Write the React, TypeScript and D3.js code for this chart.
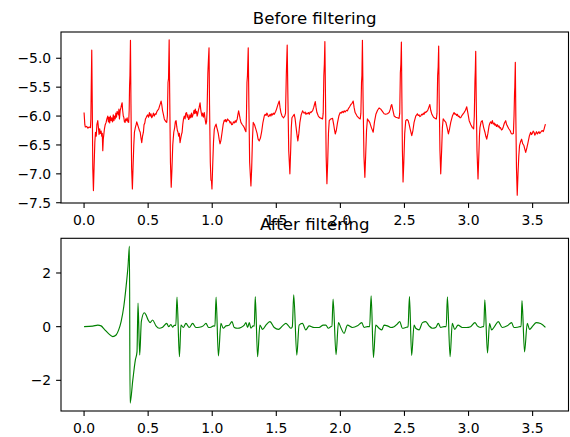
import React from "react";
import * as d3 from "d3";

const rawSignal: [number, number][] = [
  [0.0,-5.94],[0.006,-6.15],[0.01,-6.19],[0.02,-6.18],[0.03,-6.21],[0.04,-6.19],[0.05,-6.2],[0.053,-6.05],[0.056,-5.5],[0.06,-4.86],[0.064,-5.8],[0.068,-6.9],[0.073,-7.29],[0.078,-6.9],[0.084,-6.45],[0.089,-6.28],[0.095,-6.35],[0.1,-6.15],[0.107,-6.08],[0.112,-6.2],[0.117,-6.32],[0.122,-6.22],[0.127,-6.3],[0.133,-6.26],[0.138,-6.35],[0.142,-6.3],[0.146,-6.6],[0.15,-6.4],[0.155,-6.3],[0.159,-6.22],[0.165,-6.15],[0.172,-6.11],[0.178,-6.05],[0.185,-6.0],[0.19,-6.1],[0.195,-6.02],[0.2,-6.12],[0.205,-6.0],[0.211,-6.08],[0.216,-6.03],[0.222,-6.1],[0.228,-5.98],[0.233,-6.08],[0.237,-6.0],[0.243,-6.05],[0.248,-5.95],[0.253,-6.02],[0.258,-5.92],[0.263,-5.94],[0.268,-5.98],[0.272,-5.88],[0.276,-6.05],[0.282,-5.9],[0.288,-5.85],[0.293,-5.8],[0.297,-5.77],[0.301,-5.9],[0.306,-6.0],[0.31,-6.02],[0.315,-6.1],[0.32,-6.11],[0.325,-6.05],[0.33,-6.08],[0.336,-6.03],[0.342,-6.1],[0.348,-6.11],
  [0.352,-5.9],[0.355,-5.48],[0.358,-5.3],[0.362,-4.69],[0.366,-5.8],[0.371,-6.9],[0.377,-7.26],[0.382,-6.9],[0.388,-6.5],[0.393,-6.28],[0.4,-6.2],[0.406,-6.15],[0.411,-6.1],[0.418,-6.15],[0.425,-6.2],[0.432,-6.25],[0.438,-6.28],[0.444,-6.38],[0.45,-6.46],[0.456,-6.35],[0.463,-6.28],[0.468,-6.15],[0.474,-6.12],[0.479,-6.05],[0.484,-6.03],[0.49,-6.0],[0.496,-5.98],[0.503,-6.02],[0.51,-5.94],[0.516,-6.0],[0.522,-5.96],[0.528,-6.03],[0.535,-6.0],[0.541,-5.95],[0.548,-6.0],[0.555,-5.96],[0.561,-5.97],[0.567,-5.93],[0.574,-5.9],[0.582,-5.88],[0.59,-5.82],[0.596,-5.78],[0.601,-5.74],[0.606,-5.8],[0.612,-5.9],[0.619,-5.97],[0.626,-6.05],[0.633,-6.08],[0.64,-6.1],[0.645,-6.11],
  [0.65,-6.0],[0.655,-5.42],[0.659,-5.35],[0.664,-4.68],[0.668,-5.6],[0.674,-6.8],[0.68,-7.23],[0.686,-6.9],[0.692,-6.5],[0.7,-6.28],[0.707,-6.2],[0.712,-6.1],[0.718,-6.08],[0.723,-6.18],[0.728,-6.25],[0.733,-6.28],[0.738,-6.35],[0.743,-6.3],[0.749,-6.46],[0.755,-6.38],[0.76,-6.32],[0.765,-6.28],[0.77,-6.15],[0.776,-6.05],[0.782,-6.0],[0.788,-6.05],[0.794,-5.95],[0.8,-5.94],[0.805,-6.02],[0.81,-5.98],[0.815,-6.06],[0.82,-6.05],[0.826,-5.98],[0.832,-6.03],[0.838,-5.95],[0.843,-6.02],[0.847,-6.0],[0.853,-5.95],[0.858,-5.9],[0.863,-5.96],[0.868,-5.88],[0.873,-5.95],[0.878,-5.92],[0.882,-6.0],[0.886,-5.97],[0.892,-5.9],[0.898,-5.85],[0.905,-5.77],[0.91,-5.88],[0.915,-5.95],[0.92,-6.0],[0.925,-5.95],[0.931,-6.02],[0.938,-5.94],[0.944,-6.05],[0.951,-6.14],[0.956,-6.1],
  [0.96,-5.9],[0.966,-5.25],[0.971,-5.0],[0.975,-4.82],[0.979,-5.8],[0.985,-6.8],[0.99,-7.11],[0.994,-7.12],[0.998,-7.26],[1.003,-6.9],[1.01,-6.45],[1.016,-6.23],[1.022,-6.18],[1.03,-6.14],[1.036,-6.2],[1.042,-6.25],[1.048,-6.31],[1.054,-6.4],[1.061,-6.48],[1.068,-6.42],[1.077,-6.28],[1.085,-6.15],[1.094,-6.07],[1.1,-6.09],[1.105,-6.06],[1.11,-6.1],[1.115,-6.08],[1.12,-6.05],[1.125,-6.07],[1.133,-6.08],[1.14,-6.12],[1.145,-6.1],[1.152,-6.15],[1.159,-6.14],[1.165,-6.1],[1.172,-6.12],[1.18,-6.08],[1.185,-6.11],[1.195,-6.05],[1.2,-5.98],[1.206,-5.91],[1.212,-5.98],[1.218,-6.05],[1.224,-6.11],[1.235,-6.15],[1.245,-6.18],[1.25,-6.2],[1.258,-6.25],[1.263,-6.27],
  [1.267,-6.0],[1.271,-5.42],[1.275,-5.3],[1.281,-4.82],[1.286,-5.8],[1.292,-6.8],[1.302,-7.21],[1.308,-6.9],[1.314,-6.4],[1.32,-6.11],[1.33,-6.15],[1.341,-6.23],[1.35,-6.3],[1.358,-6.4],[1.367,-6.43],[1.376,-6.38],[1.385,-6.28],[1.395,-6.12],[1.406,-6.0],[1.413,-5.97],[1.42,-5.99],[1.426,-5.95],[1.432,-5.97],[1.438,-6.01],[1.445,-6.0],[1.452,-5.97],[1.458,-6.0],[1.464,-5.96],[1.47,-5.98],[1.477,-5.95],[1.484,-5.97],[1.495,-5.92],[1.502,-5.88],[1.51,-5.82],[1.516,-5.78],[1.523,-5.74],[1.529,-5.85],[1.536,-5.94],[1.545,-6.0],[1.557,-6.03],[1.566,-6.0],
  [1.572,-5.95],[1.578,-5.3],[1.585,-4.77],[1.59,-5.6],[1.597,-6.6],[1.606,-7.0],[1.612,-6.6],[1.617,-6.2],[1.622,-6.03],[1.631,-6.0],[1.64,-5.97],[1.647,-6.05],[1.653,-6.17],[1.66,-6.3],[1.668,-6.43],[1.676,-6.3],[1.684,-6.11],[1.694,-5.98],[1.705,-5.91],[1.712,-5.94],[1.718,-5.95],[1.725,-5.93],[1.731,-5.97],[1.738,-5.95],[1.744,-5.96],[1.75,-5.94],[1.757,-5.97],[1.764,-5.93],[1.77,-5.94],[1.777,-5.92],[1.783,-5.91],[1.792,-5.85],[1.798,-5.8],[1.804,-5.75],[1.81,-5.85],[1.817,-5.94],[1.828,-6.0],[1.84,-6.03],[1.852,-6.04],[1.861,-6.05],
  [1.866,-5.95],[1.871,-5.3],[1.875,-5.1],[1.879,-4.71],[1.884,-5.7],[1.889,-6.7],[1.895,-7.17],[1.901,-6.8],[1.907,-6.3],[1.913,-6.08],[1.925,-6.05],[1.939,-6.04],[1.948,-6.15],[1.955,-6.25],[1.96,-6.31],[1.968,-6.25],[1.978,-6.11],[1.988,-6.0],[1.998,-5.94],[2.006,-5.95],[2.014,-5.92],[2.022,-5.94],[2.03,-5.91],[2.038,-5.93],[2.047,-5.9],[2.055,-5.91],[2.063,-5.87],[2.072,-5.84],[2.082,-5.8],[2.091,-5.78],[2.1,-5.74],[2.107,-5.85],[2.115,-5.94],[2.13,-6.0],[2.147,-6.04],[2.155,-6.05],
  [2.16,-5.95],[2.165,-5.42],[2.168,-5.3],[2.172,-4.69],[2.177,-5.7],[2.184,-6.7],[2.191,-7.06],[2.197,-6.7],[2.204,-6.25],[2.211,-6.05],[2.22,-6.08],[2.229,-6.11],[2.242,-6.2],[2.256,-6.28],[2.266,-6.1],[2.277,-5.97],[2.29,-5.9],[2.302,-5.86],[2.315,-5.88],[2.328,-5.92],[2.341,-5.96],[2.354,-5.97],[2.367,-5.96],[2.38,-5.94],[2.39,-5.88],[2.396,-5.82],[2.401,-5.8],[2.41,-5.9],[2.42,-6.0],[2.432,-6.02],[2.445,-6.03],[2.458,-6.04],
  [2.463,-5.95],[2.468,-5.25],[2.472,-5.1],[2.476,-4.72],[2.48,-5.7],[2.484,-6.6],[2.489,-7.14],[2.495,-6.8],[2.502,-6.3],[2.51,-6.08],[2.52,-6.06],[2.529,-6.08],[2.537,-6.15],[2.545,-6.23],[2.557,-6.34],[2.566,-6.25],[2.575,-6.11],[2.588,-6.0],[2.601,-5.96],[2.607,-5.99],[2.614,-5.98],[2.62,-6.01],[2.627,-6.0],[2.634,-5.97],[2.64,-5.98],[2.647,-5.95],[2.653,-5.97],[2.66,-5.93],[2.666,-5.94],[2.673,-5.92],[2.68,-5.91],[2.69,-5.85],[2.698,-5.8],[2.705,-5.9],[2.714,-5.97],[2.727,-6.02],[2.739,-6.04],[2.749,-6.05],
  [2.754,-5.95],[2.759,-5.3],[2.763,-5.15],[2.767,-4.79],[2.771,-5.7],[2.777,-6.6],[2.783,-7.0],[2.79,-6.6],[2.796,-6.2],[2.802,-6.05],[2.812,-6.08],[2.823,-6.11],[2.833,-6.2],[2.843,-6.31],[2.852,-6.22],[2.861,-6.11],[2.874,-6.0],[2.887,-5.94],[2.894,-5.97],[2.9,-5.96],[2.907,-5.99],[2.913,-5.97],[2.92,-6.01],[2.926,-6.0],[2.933,-6.03],[2.939,-6.03],[2.946,-6.0],[2.952,-5.98],[2.965,-5.94],[2.976,-5.9],[2.986,-5.84],[2.995,-5.95],[3.005,-6.08],[3.018,-6.15],[3.03,-6.2],[3.04,-6.22],
  [3.045,-6.0],[3.05,-5.4],[3.053,-5.2],[3.056,-4.88],[3.06,-5.7],[3.066,-6.6],[3.074,-7.09],[3.08,-6.7],[3.085,-6.35],[3.089,-6.2],[3.098,-6.1],[3.107,-6.08],[3.118,-6.2],[3.128,-6.28],[3.135,-6.35],[3.142,-6.4],[3.151,-6.3],[3.16,-6.17],[3.167,-6.12],[3.173,-6.1],[3.18,-6.13],[3.186,-6.08],[3.193,-6.14],[3.2,-6.12],[3.206,-6.16],[3.212,-6.14],[3.218,-6.18],[3.225,-6.15],[3.232,-6.19],[3.238,-6.17],[3.244,-6.21],[3.25,-6.2],[3.257,-6.24],[3.264,-6.23],[3.272,-6.18],[3.28,-6.12],[3.29,-6.08],[3.296,-6.14],[3.303,-6.17],[3.314,-6.22],[3.324,-6.25],[3.333,-6.3],[3.341,-6.31],[3.35,-6.3],
  [3.355,-6.0],[3.359,-5.6],[3.361,-5.5],[3.365,-5.07],[3.369,-6.0],[3.374,-6.9],[3.38,-7.37],[3.386,-7.0],[3.392,-6.7],[3.398,-6.51],[3.405,-6.45],[3.414,-6.4],[3.423,-6.48],[3.432,-6.51],[3.44,-6.58],[3.446,-6.63],[3.455,-6.55],[3.464,-6.46],[3.474,-6.35],[3.485,-6.28],[3.491,-6.32],[3.498,-6.3],[3.504,-6.26],[3.511,-6.28],[3.517,-6.33],[3.524,-6.3],[3.53,-6.27],[3.537,-6.31],[3.543,-6.29],[3.55,-6.27],[3.556,-6.3],[3.563,-6.28],[3.57,-6.26],[3.576,-6.25],[3.583,-6.27],[3.589,-6.23],[3.595,-6.18],[3.6,-6.14],
];

const filteredSignal: [number, number][] = [
  [0,0],[0.068,0.02],[0.107,0.06],[0.133,0.03],[0.159,-0.1],[0.193,-0.27],[0.224,-0.37],[0.25,-0.31],[0.27,-0.12],[0.289,0.19],[0.31,0.75],[0.328,1.5],[0.343,2.25],[0.354,3.0],[0.359,-2.85],[0.38,-2.0],[0.4,-1.25],[0.413,-0.94],[0.421,0.88],[0.434,-1.06],[0.447,0.2],[0.47,0.52],[0.485,0.42],[0.5,0.25],[0.515,0.15],[0.535,0.25],[0.561,0.03],[0.587,-0.06],[0.613,-0.02],[0.645,0.12],[0.66,0.0],[0.678,0.08],[0.691,-0.02],[0.704,0.05],[0.716,0.05],
  [0.725,1.1],[0.744,-1.12],[0.756,0.06],[0.774,-0.03],[0.795,0.12],[0.821,-0.03],[0.847,0.12],[0.873,-0.03],[0.9,-0.02],[0.93,0.03],[0.951,0.12],[0.972,-0.03],[0.99,-0.02],[1.011,0.03],[1.021,0.02],
  [1.03,1.1],[1.048,-1.09],[1.068,0.12],[1.086,-0.06],[1.107,0.03],[1.13,0.05],[1.154,0.19],[1.172,-0.03],[1.198,-0.06],[1.224,-0.03],[1.25,0.06],[1.263,0.15],[1.276,-0.03],[1.289,0.15],[1.302,-0.06],[1.32,0.03],[1.328,0.02],
  [1.336,1.12],[1.354,-1.12],[1.372,0.06],[1.393,-0.1],[1.419,0.06],[1.45,0.19],[1.484,-0.03],[1.517,-0.1],[1.549,0.03],[1.575,0.12],[1.595,0.03],[1.614,-0.06],[1.625,0.0],
  [1.636,1.19],[1.66,-1.06],[1.678,0.06],[1.704,0.12],[1.73,-0.12],[1.756,0.03],[1.795,-0.03],[1.834,-0.03],[1.866,0.06],[1.886,0.06],[1.907,-0.06],[1.925,0.0],[1.934,0.02],
  [1.943,1.03],[1.966,-1.04],[1.985,0.15],[2.003,-0.03],[2.029,-0.25],[2.055,0.06],[2.094,-0.03],[2.133,0.03],[2.167,0.15],[2.185,-0.03],[2.211,0.0],[2.228,0.0],
  [2.24,1.15],[2.258,-1.15],[2.276,0.06],[2.302,-0.06],[2.323,-0.12],[2.341,0.06],[2.367,0.03],[2.393,-0.03],[2.419,0.0],[2.445,0.1],[2.463,0.19],[2.484,-0.06],[2.51,-0.03],[2.528,0.0],
  [2.539,1.12],[2.556,-1.07],[2.575,0.06],[2.588,-0.06],[2.614,-0.12],[2.64,0.15],[2.666,0.19],[2.692,0.03],[2.718,-0.06],[2.744,-0.03],[2.764,0.12],[2.783,-0.03],[2.809,0.0],[2.826,0.0],
  [2.835,1.11],[2.856,-1.12],[2.873,0.12],[2.892,-0.1],[2.918,0.06],[2.951,-0.03],[2.983,-0.03],[3.016,0.0],[3.05,0.15],[3.068,0.03],[3.094,-0.03],[3.112,0.0],[3.119,0.0],
  [3.127,1.0],[3.148,-0.98],[3.164,0.12],[3.18,-0.12],[3.206,0.03],[3.232,0.19],[3.263,-0.03],[3.302,0.03],[3.336,0.15],[3.354,-0.03],[3.38,-0.02],[3.401,0.0],[3.41,0.0],
  [3.417,0.97],[3.437,-0.94],[3.458,0.12],[3.476,-0.1],[3.502,0.03],[3.528,0.15],[3.562,0.12],[3.6,-0.03],
];

const xTicks = [0, 0.5, 1.0, 1.5, 2.0, 2.5, 3.0, 3.5];
const topYTicks = [-7.5, -7.0, -6.5, -6.0, -5.5, -5.0];
const bottomYTicks = [-2, 0, 2];
const titles = ["Before filtering", "After filtering"];

const FONT = "DejaVu Sans, sans-serif";
const LEFT = 61;
const RIGHT = 568.5;

function padded(values: number[]): [number, number] {
  const [lo, hi] = d3.extent(values) as [number, number];
  const m = (hi - lo) * 0.05;
  return [lo - m, hi + m];
}

type PanelProps = {
  data: [number, number][];
  top: number;
  bottom: number;
  yTicks: number[];
  yFmt: (v: number) => string;
  color: string;
  title: string;
  smooth: boolean;
};

function Panel({ data, top, bottom, yTicks, yFmt, color, title, smooth }: PanelProps) {
  const x = d3.scaleLinear().domain(padded(data.map((d) => d[0]))).range([LEFT, RIGHT]);
  const y = d3.scaleLinear().domain(padded(data.map((d) => d[1]))).range([bottom, top]);
  const line = d3
    .line<[number, number]>()
    .x((d) => x(d[0]))
    .y((d) => y(d[1]))
    .curve(smooth ? d3.curveMonotoneX : d3.curveLinear);
  const xFmt = d3.format(".1f");
  const tickLen = 4.9;
  return (
    <g>
      <rect x={LEFT} y={top} width={RIGHT - LEFT} height={bottom - top} fill="#fff" />
      <path d={line(data) || ""} fill="none" stroke={color} strokeWidth={1.15} strokeLinejoin="round" />
      <rect x={LEFT} y={top} width={RIGHT - LEFT} height={bottom - top} fill="none" stroke="#000" strokeWidth={1.1} />
      {xTicks.map((t) => (
        <g key={"x" + t}>
          <line x1={x(t)} x2={x(t)} y1={bottom} y2={bottom + tickLen} stroke="#000" strokeWidth={1.1} />
          <text x={x(t)} y={bottom + 21.5} textAnchor="middle" fontSize={13.9} fontFamily={FONT} fill="#000">
            {xFmt(t)}
          </text>
        </g>
      ))}
      {yTicks.map((t) => (
        <g key={"y" + t}>
          <line x1={LEFT - tickLen} x2={LEFT} y1={y(t)} y2={y(t)} stroke="#000" strokeWidth={1.1} />
          <text x={LEFT - 9.8} y={y(t)} dy="0.36em" textAnchor="end" fontSize={13.9} fontFamily={FONT} fill="#000">
            {yFmt(t)}
          </text>
        </g>
      ))}
      <text x={(LEFT + RIGHT) / 2} y={top - 8.3} textAnchor="middle" fontSize={16.6} fontFamily={FONT} fill="#000">
        {title}
      </text>
    </g>
  );
}

export default function App() {
  const f1 = d3.format(".1f");
  const f0 = d3.format("d");
  return (
    <svg
      width={570}
      height={437}
      style={{ position: "absolute", left: 0, top: 0, background: "#fff" }}
    >
      <rect width={570} height={437} fill="#fff" />
      <Panel data={rawSignal} top={32} bottom={203} yTicks={topYTicks} yFmt={f1} color="#ff0000" title={titles[0]} smooth={false} />
      <Panel data={filteredSignal} top={238.3} bottom={411} yTicks={bottomYTicks} yFmt={f0} color="#008000" title={titles[1]} smooth={true} />
    </svg>
  );
}
